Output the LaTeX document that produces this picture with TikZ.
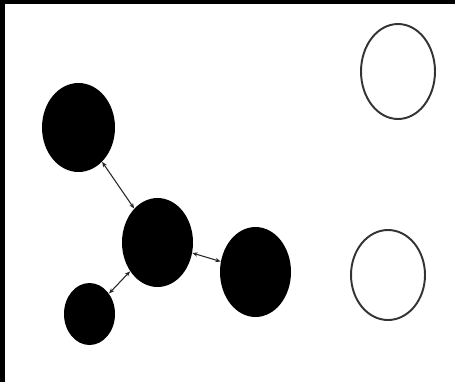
\documentclass[tikz,border=0pt]{standalone}
\usetikzlibrary{arrows.meta,shapes.geometric}

\begin{document}
\begin{tikzpicture}[x=0.02cm,y=-0.02cm,>={Stealth[length=3pt,width=2.4pt]},
    blob/.style={ellipse,fill=black,inner sep=0pt},
    hole/.style={ellipse,draw=black!80,line width=1.1pt,inner sep=0pt},
    link/.style={<->,line width=0.6pt,black!85}]
  % frame
  \fill[white] (0,0) rectangle (455,382);
  \fill[black] (0,0) rectangle (455,4);
  \fill[black] (0,0) rectangle (5,382);
  % filled cluster
  \node[blob,minimum width=1.46cm,minimum height=1.78cm] (top) at (78.5,127.5) {};
  \node[blob,minimum width=1.42cm,minimum height=1.78cm] (hub) at (157.5,242.5) {};
  \node[blob,minimum width=1.42cm,minimum height=1.80cm] (east) at (255.5,272) {};
  \node[blob,minimum width=1.02cm,minimum height=1.24cm] (low) at (89.5,314) {};
  % empty ones
  \node[hole,minimum width=1.48cm,minimum height=1.90cm] (upper) at (398,71.5) {};
  \node[hole,minimum width=1.48cm,minimum height=1.80cm] (lower) at (388,275) {};
  % links
  \draw[link] (top) -- (hub);
  \draw[link] (hub) -- (low);
  \draw[link] (hub) -- (east);
\end{tikzpicture}
\end{document}
